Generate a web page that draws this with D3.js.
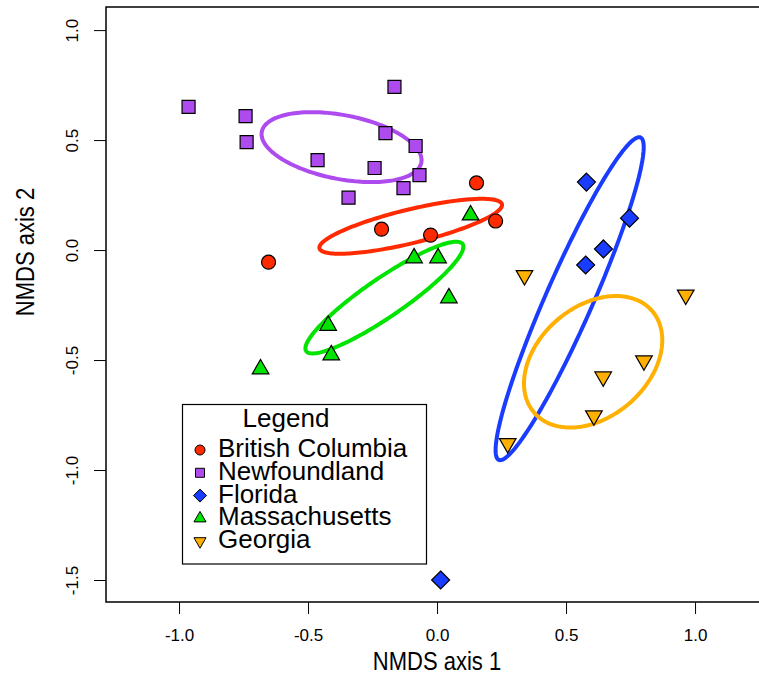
<!DOCTYPE html>
<html>
<head>
<meta charset="utf-8">
<script src="https://cdn.jsdelivr.net/npm/d3@7"></script>
<style>
  html, body { margin: 0; padding: 0; background: #fff; }
  svg { display: block; font-family: "Liberation Sans", Arial, Helvetica, sans-serif; }
</style>
</head>
<body>
<svg id="chart" width="759" height="677"></svg>
<script>
// ---------------- data ----------------
const groups = ["British Columbia", "Newfoundland", "Florida", "Massachusetts", "Georgia"];
const groupColors = ["#FF2A00", "#AE4BEF", "#1A3CFF", "#00E400", "#FFB000"];
const groupShapes = ["circle", "square", "diamond", "triangleUp", "triangleDown"];

const bcX = [0.153, 0.227, -0.215, -0.025, -0.653];
const bcY = [0.305, 0.132, 0.095, 0.068, -0.055];

const nfX = [-0.963, -0.742, -0.738, -0.165, -0.200, -0.083, -0.463, -0.242, -0.068, -0.130, -0.343];
const nfY = [0.651, 0.609, 0.491, 0.742, 0.532, 0.473, 0.409, 0.373, 0.341, 0.282, 0.238];

const flX = [0.579, 0.746, 0.645, 0.576, 0.014];
const flY = [0.309, 0.145, 0.005, -0.068, -1.500];

const maX = [0.130, -0.089, 0.004, 0.046, -0.422, -0.410, -0.684];
const maY = [0.159, -0.036, -0.036, -0.218, -0.343, -0.477, -0.541];

const gaX = [0.339, 0.964, 0.802, 0.644, 0.608, 0.274];
const gaY = [-0.115, -0.204, -0.503, -0.576, -0.753, -0.879];

// ellipses: centre and covariance-like matrix (data units)
const ellCx  = [-0.102, -0.370, 0.514, -0.204, 0.605];
const ellCy  = [0.108, 0.468, -0.221, -0.216, -0.508];
const ellSxx = [0.1253, 0.0961, 0.0824, 0.0937, 0.0718];
const ellSyy = [0.0156, 0.0253, 0.5390, 0.0645, 0.0894];
const ellSxy = [0.0343, -0.0183, 0.1977, 0.0707, 0.0264];

const xTicks = [-1.0, -0.5, 0.0, 0.5, 1.0];
const yTicks = [-1.5, -1.0, -0.5, 0.0, 0.5, 1.0];
const xDomain = [-1.283, 1.244];
const yDomain = [-1.6, 1.105];

const seriesX = [bcX, nfX, flX, maX, gaX];
const seriesY = [bcY, nfY, flY, maY, gaY];

// ---------------- layout ----------------
const svg = d3.select("#chart");
const plot = { left: 106, right: 758, top: 7, bottom: 602 };
const x = d3.scaleLinear().domain(xDomain).range([plot.left, plot.right]);
const y = d3.scaleLinear().domain(yDomain).range([plot.bottom, plot.top]);

function shapePath(shape, s) {
  switch (shape) {
    case "circle":
      return `M${-s},0A${s},${s} 0 1,0 ${s},0A${s},${s} 0 1,0 ${-s},0Z`;
    case "square":
      return `M${-s},${-s}H${s}V${s}H${-s}Z`;
    case "diamond":
      return `M0,${-s}L${s},0L0,${s}L${-s},0Z`;
    case "triangleUp": {
      const r = s, xc = r * 0.8660254, yc = r / 2;
      return `M0,${-r}L${xc},${yc}L${-xc},${yc}Z`;
    }
    case "triangleDown": {
      const r = s, xc = r * 0.8660254, yc = r / 2;
      return `M0,${r}L${xc},${-yc}L${-xc},${-yc}Z`;
    }
  }
}
const plotSizes = { circle: 7, square: 6.5, diamond: 9, triangleUp: 9.6, triangleDown: 9.6 };
const legendSizes = { circle: 5, square: 4.5, diamond: 6.5, triangleUp: 7, triangleDown: 7 };

// ---------------- axes ----------------
const fmt = d => d.toFixed(1);
const xAxis = d3.axisBottom(x).tickValues(xTicks).tickFormat(fmt).tickSize(12).tickSizeOuter(0);
const gx = svg.append("g").attr("transform", `translate(0,${plot.bottom})`).call(xAxis);
gx.select(".domain").remove();
gx.selectAll(".tick line").attr("stroke", "#000").attr("stroke-width", 1);
gx.selectAll(".tick text").attr("font-family", null).attr("font-size", 17).attr("fill", "#000")
  .attr("y", 0).attr("dy", 0).attr("transform", "translate(0,39)");

const yAxis = d3.axisLeft(y).tickValues(yTicks).tickFormat(fmt).tickSize(12).tickSizeOuter(0);
const gy = svg.append("g").attr("transform", `translate(${plot.left},0)`).call(yAxis);
gy.select(".domain").remove();
gy.selectAll(".tick line").attr("stroke", "#000").attr("stroke-width", 1);
gy.selectAll(".tick text").attr("font-family", null).attr("font-size", 17).attr("fill", "#000")
  .attr("x", 0).attr("dy", "0.35em").attr("text-anchor", "middle")
  .attr("transform", "translate(-34,0) rotate(-90)");

svg.append("text").attr("transform", "translate(437,670) scale(0.88,1)").attr("text-anchor", "middle")
  .attr("font-size", 25).text("NMDS axis 1");
svg.append("text").attr("transform", "translate(34,252) rotate(-90) scale(0.88,1)").attr("text-anchor", "middle")
  .attr("font-size", 25).text("NMDS axis 2");

// ---------------- ellipses ----------------
const line = d3.line().x(d => x(d[0])).y(d => y(d[1])).curve(d3.curveLinearClosed);
const ts = d3.range(0, 360, 2).map(a => a * Math.PI / 180);
groups.forEach((g, i) => {
  const l11 = Math.sqrt(ellSxx[i]);
  const l21 = ellSxy[i] / l11;
  const l22 = Math.sqrt(ellSyy[i] - l21 * l21);
  const pts = ts.map(t => [ellCx[i] + l11 * Math.cos(t), ellCy[i] + l21 * Math.cos(t) + l22 * Math.sin(t)]);
  svg.append("path").attr("d", line(pts)).attr("fill", "none")
    .attr("stroke", groupColors[i]).attr("stroke-width", 4);
});

// ---------------- points ----------------
groups.forEach((g, i) => {
  const data = seriesX[i].map((v, j) => [v, seriesY[i][j]]);
  svg.append("g").selectAll("path").data(data).join("path")
    .attr("transform", d => `translate(${x(d[0])},${y(d[1])})`)
    .attr("d", shapePath(groupShapes[i], plotSizes[groupShapes[i]]))
    .attr("fill", groupColors[i]).attr("stroke", "#000").attr("stroke-width", 1.2);
});

// ---------------- box ----------------
svg.append("rect").attr("x", plot.left).attr("y", plot.top)
  .attr("width", plot.right - plot.left + 10).attr("height", plot.bottom - plot.top)
  .attr("fill", "none").attr("stroke", "#000").attr("stroke-width", 1.5);

// ---------------- legend ----------------
const lg = svg.append("g");
lg.append("rect").attr("x", 182.5).attr("y", 404.5).attr("width", 244).attr("height", 159.5)
  .attr("fill", "#fff").attr("stroke", "#000").attr("stroke-width", 1.2);
lg.append("text").attr("x", 286).attr("y", 427).attr("text-anchor", "middle")
  .attr("font-size", 26).text("Legend");
groups.forEach((g, i) => {
  const cy = 450 + i * 22.8;
  lg.append("path").attr("transform", `translate(200,${cy})`)
    .attr("d", shapePath(groupShapes[i], legendSizes[groupShapes[i]]))
    .attr("fill", groupColors[i]).attr("stroke", "#000").attr("stroke-width", 1);
  lg.append("text").attr("x", 218).attr("y", cy + 7).attr("font-size", 26).text(g);
});
</script>
</body>
</html>
